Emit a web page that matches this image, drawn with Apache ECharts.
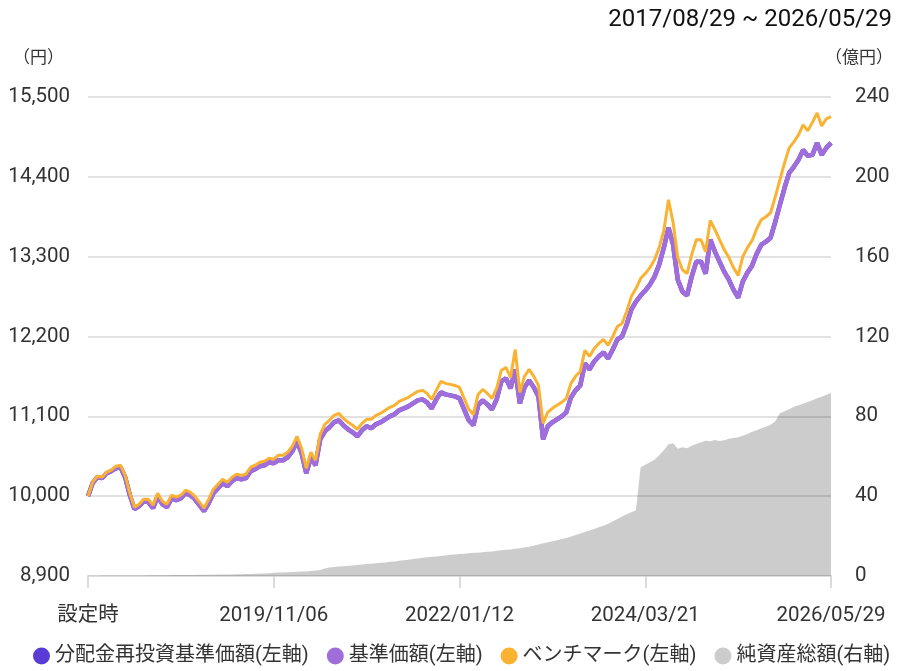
<!DOCTYPE html>
<html>
<head>
<meta charset="utf-8">
<script src="https://cdn.jsdelivr.net/npm/echarts@6/dist/echarts.min.js"></script>
<style>
  html, body { margin: 0; padding: 0; background: #fff; }
  #chart { width: 897px; height: 671px; }
</style>
</head>
<body>
<div id="chart"></div>
<script>
// 期間表示・軸ラベル
const periodText = '2017/08/29 ~ 2026/05/29'
const xTickLabels = ['設定時', '2019/11/06', '2022/01/12', '2024/03/21', '2026/05/29']
const seriesNames = ['分配金再投資基準価額(左軸)', '基準価額(左軸)', 'ベンチマーク(左軸)', '純資産総額(右軸)']

// 基準価額（円） 設定時から等間隔で読み取り
const navValues = [
  10000, 10179, 10261, 10248, 10316, 10344, 10385, 10399, 10261, 10014,
  9821, 9862, 9931, 9918, 9835, 10000, 9890, 9849, 9972, 9945,
  9972, 10041, 10014, 9959, 9876, 9794, 9904, 10041, 10110, 10179,
  10138, 10206, 10248, 10234, 10248, 10344, 10371, 10413, 10426, 10468,
  10454, 10495, 10495, 10536, 10619, 10756, 10591, 10316, 10536, 10426,
  10784, 10894, 10949, 11018, 11045, 10976, 10921, 10880, 10825, 10908,
  10963, 10935, 10990, 11018, 11059, 11100, 11128, 11183, 11210, 11238,
  11279, 11320, 11334, 11293, 11210, 11334, 11430, 11403, 11389, 11375,
  11348, 11196, 11045, 10976, 11251, 11320, 11265, 11196, 11334, 11581,
  11623, 11485, 11746, 11279, 11499, 11595, 11499, 11375, 10784, 10963,
  11018, 11059, 11100, 11155, 11361, 11458, 11526, 11829, 11746, 11856,
  11925, 11980, 11898, 12021, 12159, 12200, 12365, 12571, 12681, 12764,
  12833, 12915, 13025, 13190, 13424, 13699, 13465, 12984, 12819, 12764,
  13025, 13231, 13231, 13066, 13534, 13369, 13231, 13094, 12984, 12846,
  12736, 12956, 13080, 13176, 13341, 13465, 13506, 13561, 13781, 14015,
  14249, 14455, 14538, 14634, 14771, 14689, 14703, 14868, 14703, 14799,
  14868
]

// 分配金再投資基準価額（円） 分配実績なしのため基準価額と同値
const reinvestValues = navValues.slice()

// ベンチマーク（円）
const benchmarkValues = [
  10000, 10193, 10275, 10262, 10330, 10358, 10413, 10427, 10289, 10042,
  9849, 9890, 9959, 9959, 9876, 10041, 9931, 9890, 10013, 9986,
  10013, 10082, 10055, 10000, 9917, 9835, 9959, 10096, 10165, 10234,
  10193, 10261, 10303, 10289, 10303, 10399, 10426, 10468, 10481, 10523,
  10509, 10564, 10564, 10605, 10688, 10825, 10660, 10385, 10605, 10495,
  10853, 10990, 11045, 11114, 11141, 11072, 11017, 10976, 10921, 11004,
  11059, 11059, 11114, 11142, 11183, 11224, 11252, 11307, 11334, 11362,
  11403, 11444, 11458, 11417, 11334, 11458, 11581, 11554, 11540, 11526,
  11499, 11347, 11196, 11127, 11402, 11471, 11416, 11347, 11485, 11732,
  11774, 11636, 12020, 11430, 11650, 11746, 11650, 11526, 11004, 11156,
  11211, 11252, 11293, 11348, 11554, 11651, 11719, 12008, 11925, 12035,
  12104, 12159, 12077, 12200, 12338, 12379, 12544, 12750, 12860, 12998,
  13067, 13149, 13259, 13424, 13658, 14084, 13768, 13287, 13122, 13067,
  13328, 13534, 13534, 13369, 13800, 13672, 13534, 13397, 13287, 13149,
  13039, 13300, 13424, 13520, 13685, 13809, 13850, 13905, 14125, 14359,
  14593, 14799, 14882, 14978, 15115, 15033, 15150, 15280, 15100, 15200,
  15230
]

// 純資産総額（億円）
const aumValues = [
  0.1, 0.1, 0.1, 0.2, 0.2, 0.2, 0.2, 0.3, 0.3, 0.3,
  0.3, 0.3, 0.3, 0.4, 0.4, 0.4, 0.4, 0.4, 0.5, 0.5,
  0.5, 0.5, 0.5, 0.5, 0.6, 0.6, 0.6, 0.6, 0.7, 0.7,
  0.8, 0.8, 0.9, 0.9, 1.0, 1.0, 1.1, 1.2, 1.3, 1.4,
  1.6, 1.7, 1.8, 1.9, 2.0, 2.1, 2.2, 2.3, 2.5, 2.7,
  3.0, 3.8, 4.3, 4.5, 4.7, 4.9, 5.1, 5.3, 5.5, 5.8,
  6.0, 6.2, 6.4, 6.6, 6.8, 7.1, 7.3, 7.6, 7.9, 8.2,
  8.5, 8.8, 9.1, 9.4, 9.6, 9.8, 10.0, 10.3, 10.6, 10.8,
  11.0, 11.2, 11.4, 11.6, 11.7, 11.9, 12.1, 12.3, 12.6, 12.9,
  13.1, 13.3, 13.6, 13.9, 14.3, 14.7, 15.2, 15.8, 16.4, 16.9,
  17.4, 17.9, 18.5, 19.1, 19.8, 20.6, 21.3, 22.0, 22.8, 23.6,
  24.4, 25.2, 26.2, 27.3, 28.5, 29.8, 31.0, 32.0, 33.0, 54.5,
  55.8, 57.0, 58.3, 60.5, 63.0, 66.0, 66.5, 63.8, 64.5, 64.0,
  65.3, 66.2, 67.0, 67.8, 67.5, 68.2, 67.7, 68.0, 68.8, 69.2,
  69.5, 70.3, 71.2, 72.3, 73.0, 74.0, 74.8, 75.8, 77.5, 81.6,
  82.5, 83.5, 84.8, 85.5, 86.3, 87.2, 88.0, 89.0, 89.8, 90.8,
  91.7
]

const COLORS = {
  reinvest: '#5a3bd6',
  nav: '#9f6edb',
  benchmark: '#fab232',
  aum: '#cccccc',
  label: '#333333',
  grid: '#e2e2e2'
}
const FONT = 'Roboto, "Noto Sans CJK JP", sans-serif'

const labelStep = (navValues.length - 1) / (xTickLabels.length - 1)
const categories = navValues.map((_, i) => String(i))
const withComma = v => String(v).replace(/\B(?=(\d{3})+(?!\d))/g, ',')

const chart = echarts.init(document.getElementById('chart'))

chart.setOption({
  animation: false,
  textStyle: { fontFamily: FONT },
  title: {
    text: periodText,
    right: 0,
    top: 3,
    textStyle: { fontSize: 24, fontWeight: 'normal', color: '#111', fontFamily: FONT }
  },
  graphic: [
    { type: 'text', left: 13, top: 50, style: { text: '（円）', fontSize: 17, fill: COLORS.label, fontFamily: FONT } },
    { type: 'text', left: 825, top: 50, style: { text: '（億円）', fontSize: 17, fill: COLORS.label, fontFamily: FONT } }
  ],
  legend: {
    bottom: 0,
    left: 28,
    icon: 'circle',
    itemWidth: 17,
    itemHeight: 17,
    itemGap: 18,
    textStyle: { fontSize: 20, color: COLORS.label, fontFamily: FONT },
    data: [
      { name: seriesNames[0], itemStyle: { color: COLORS.reinvest } },
      { name: seriesNames[1], itemStyle: { color: COLORS.nav } },
      { name: seriesNames[2], itemStyle: { color: COLORS.benchmark } },
      { name: seriesNames[3], itemStyle: { color: COLORS.aum } }
    ]
  },
  grid: { left: 88, right: 66, top: 97, bottom: 95 },
  xAxis: {
    type: 'category',
    boundaryGap: false,
    data: categories,
    axisLine: { lineStyle: { color: '#dddddd', width: 2 } },
    axisTick: {
      interval: (idx) => idx % labelStep === 0,
      length: 12,
      lineStyle: { color: '#d0d0d0', width: 1.5 }
    },
    axisLabel: {
      interval: (idx) => idx % labelStep === 0,
      formatter: (v, idx) => xTickLabels[idx / labelStep] || '',
      margin: 30,
      fontSize: 20.5,
      color: COLORS.label
    },
    splitLine: { show: false }
  },
  yAxis: [
    {
      type: 'value',
      min: 8900,
      max: 15500,
      interval: 1100,
      axisLine: { show: false },
      axisTick: { show: false },
      axisLabel: { formatter: withComma, fontSize: 20.5, color: COLORS.label, margin: 18 },
      splitLine: { lineStyle: { color: COLORS.grid, width: 2 } }
    },
    {
      type: 'value',
      min: 0,
      max: 240,
      interval: 40,
      axisLine: { show: false },
      axisTick: { show: false },
      axisLabel: { fontSize: 20.5, color: COLORS.label, margin: 24, align: 'left' },
      splitLine: { show: false }
    }
  ],
  series: [
    {
      name: seriesNames[3],
      type: 'line',
      yAxisIndex: 1,
      data: aumValues,
      symbol: 'none',
      lineStyle: { width: 0 },
      itemStyle: { color: COLORS.aum },
      areaStyle: { color: 'rgba(0,0,0,0.2)', opacity: 1 },
      z: 1
    },
    {
      name: seriesNames[0],
      type: 'line',
      data: reinvestValues,
      symbol: 'none',
      lineStyle: { width: 4.5, color: COLORS.reinvest },
      itemStyle: { color: COLORS.reinvest },
      z: 2
    },
    {
      name: seriesNames[1],
      type: 'line',
      data: navValues,
      symbol: 'none',
      lineStyle: { width: 4.5, color: COLORS.nav },
      itemStyle: { color: COLORS.nav },
      z: 3
    },
    {
      name: seriesNames[2],
      type: 'line',
      data: benchmarkValues,
      symbol: 'none',
      lineStyle: { width: 3, color: COLORS.benchmark },
      itemStyle: { color: COLORS.benchmark },
      z: 4
    }
  ]
})
</script>
</body>
</html>
